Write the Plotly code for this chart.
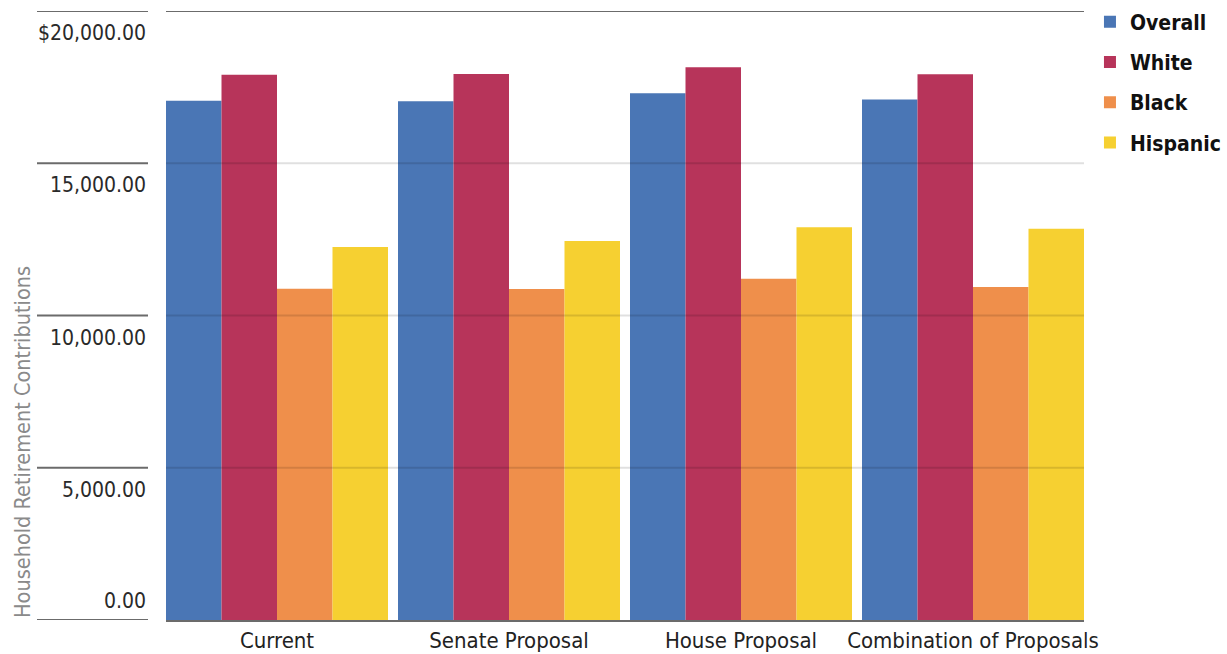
import plotly.graph_objects as go

# Household retirement contributions by proposal and group
categories = ["Current", "Senate Proposal", "House Proposal", "Combination of Proposals"]
overall = [17050, 17040, 17300, 17090]
white = [17910, 17930, 18150, 17920]
black = [10880, 10870, 11210, 10940]
hispanic = [12250, 12450, 12900, 12850]

series_names = ["Overall", "White", "Black", "Hispanic"]
series_values = [overall, white, black, hispanic]
series_colors = ["#4A76B5", "#B7345A", "#EF8F4B", "#F6D031"]

tick_values = [0, 5000, 10000, 15000, 20000]
tick_labels = ["0.00", "5,000.00", "10,000.00", "15,000.00", "$20,000.00"]

FONT = "DejaVu Sans Condensed, Roboto, sans-serif"

W, H = 1227, 654
left, right_edge, top, bottom = 166, 1084, 11, 620
plot_w = right_edge - left

fig = go.Figure()
for name, vals, color in zip(series_names, series_values, series_colors):
    fig.add_trace(go.Bar(
        x=categories, y=vals, name=name,
        marker=dict(color=color, line=dict(width=0)),
        legendgroup=name,
        hoverinfo="x+y+name",
    ))

# category spacing ~232px, gap between groups ~10px
gap = 10 / 232
fig.update_layout(
    width=W, height=H,
    margin=dict(l=left, r=W - right_edge, t=top, b=H - bottom, autoexpand=False),
    paper_bgcolor="white", plot_bgcolor="white",
    barmode="group", bargap=gap, bargroupgap=0,
    font=dict(family=FONT, color="#222"),
    xaxis=dict(
        range=[-0.5 + gap / 2, 3.5 - gap / 2],
        showgrid=False, showline=True, linecolor="#6b6b6b", linewidth=2,
        ticks="", tickangle=0, automargin=False,
        tickfont=dict(size=22, family=FONT, color="#222"),
        fixedrange=True,
    ),
    yaxis=dict(
        range=[0, 20000], showgrid=False, zeroline=False,
        showticklabels=False, ticks="", fixedrange=True, automargin=False,
    ),
    legend=dict(
        x=1.0065, xanchor="left", xref="paper", y=1.0156, yanchor="top",
        font=dict(size=21, family=FONT, color="#111", weight="bold"),
        tracegroupgap=10, itemwidth=30, bgcolor="rgba(0,0,0,0)",
    ),
    showlegend=True,
)

lx0 = (37 - left) / plot_w
lx1 = (148 - left) / plot_w
for v, lab in zip(tick_values, tick_labels):
    # short rule beside each tick label
    fig.add_shape(type="line", xref="paper", yref="y", x0=lx0, x1=lx1, y0=v, y1=v,
                  line=dict(color="#6b6b6b", width=2))
    if v == 0:
        fig.add_annotation(xref="paper", yref="y", x=lx1, y=v, text=lab, showarrow=False,
                           xanchor="right", yanchor="bottom", yshift=5,
                           font=dict(size=21, family=FONT, color="#2a2a2a"))
    else:
        fig.add_annotation(xref="paper", yref="y", x=lx1, y=v, text=lab, showarrow=False,
                           xanchor="right", yanchor="top", yshift=-8,
                           font=dict(size=21, family=FONT, color="#2a2a2a"))
    if 0 < v < 20000:
        fig.add_shape(type="line", xref="paper", yref="y", x0=0, x1=1, y0=v, y1=v,
                      layer="above", line=dict(color="rgba(0,0,0,0.12)", width=2))
    elif v == 20000:
        fig.add_shape(type="line", xref="paper", yref="y", x0=0, x1=1, y0=v, y1=v,
                      line=dict(color="#6b6b6b", width=2))

fig.add_annotation(xref="paper", yref="y", x=(22 - left) / plot_w, y=0,
                   text="Household Retirement Contributions", showarrow=False,
                   textangle=-90, xanchor="center", yanchor="bottom",
                   font=dict(size=21.5, family=FONT, color="#8a8a8a"))

fig.write_html("out.html")
